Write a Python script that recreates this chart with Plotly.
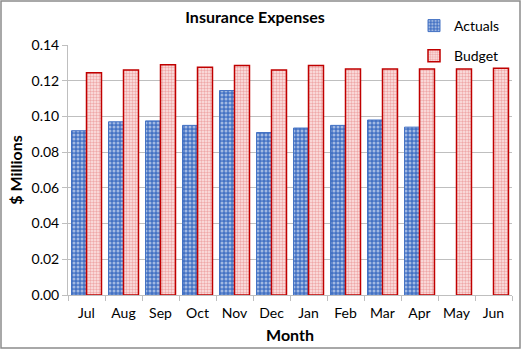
import plotly.graph_objects as go

months = ["Jul", "Aug", "Sep", "Oct", "Nov", "Dec", "Jan", "Feb", "Mar", "Apr", "May", "Jun"]
actuals = [0.092, 0.097, 0.0975, 0.095, 0.1145, 0.091, 0.0935, 0.095, 0.098, 0.094, None, None]
budget = [0.1245, 0.126, 0.129, 0.1275, 0.1285, 0.126, 0.1285, 0.1265, 0.1265, 0.1265, 0.1265, 0.127]
y_ticks = [0.0, 0.02, 0.04, 0.06, 0.08, 0.10, 0.12, 0.14]

FONT = "Lato, Open Sans, sans-serif"

fig = go.Figure()
fig.add_trace(go.Bar(
    x=months, y=actuals, name="Actuals", legendgroup="a",
    marker=dict(color="#4472C4", line=dict(color="#4472C4", width=1),
                pattern=dict(shape=".", fgcolor="white", bgcolor="#4472C4", size=4, solidity=0.45)),
))
fig.add_trace(go.Bar(
    x=months, y=budget, name="Budget", legendgroup="b",
    marker=dict(color="#E8A0A0", line=dict(color="#C00000", width=1.5),
                pattern=dict(shape=".", fgcolor="#E46A6A", bgcolor="#FBE6E6", size=3, solidity=0.5)),
))

fig.update_layout(
    width=522, height=350,
    margin=dict(l=68, r=10, t=45, b=55, autoexpand=False),
    paper_bgcolor="white", plot_bgcolor="white",
    font=dict(family=FONT, size=14, color="#000"),
    title=dict(text="<b>Insurance Expenses</b>", x=255 / 522, xanchor="center", xref="container",
               y=1 - 17 / 350, yanchor="middle", yref="container",
               font=dict(size=16, family=FONT)),
    barmode="group", bargap=0.19, bargroupgap=0.0,
    showlegend=True,
    legend=dict(xref="container", yref="container", x=414 / 522, xanchor="left",
                y=1 - 41 / 350, yanchor="middle", traceorder="grouped",
                tracegroupgap=9, font=dict(size=14), bgcolor="rgba(0,0,0,0)",
                itemwidth=30),
    xaxis=dict(title=dict(text="<b>Month</b>", font=dict(size=16), standoff=10),
               showline=True, linecolor="#BFBFBF", linewidth=1, ticks="outside",
               tickson="boundaries", ticklen=5, tickcolor="#BFBFBF", showgrid=False,
               ticklabelstandoff=5),
    yaxis=dict(title=dict(text="<b>$ Millions</b>", font=dict(size=16), standoff=4),
               range=[0, 0.14], tickvals=y_ticks, tickformat=".2f",
               showline=True, linecolor="#BFBFBF", linewidth=1, ticks="outside",
               ticklen=5, tickcolor="#BFBFBF",
               showgrid=True, gridcolor="#BFBFBF", gridwidth=1, zeroline=False),
    shapes=[dict(type="rect", xref="paper", yref="paper",
                 x0=(1 - 68) / 444, x1=(520 - 68) / 444,
                 y0=(295 - 348) / 250, y1=(295 - 1) / 250,
                 line=dict(color="#8C8C8C", width=1.5), fillcolor="rgba(0,0,0,0)", layer="below")],
)

fig.write_html("out.html")
